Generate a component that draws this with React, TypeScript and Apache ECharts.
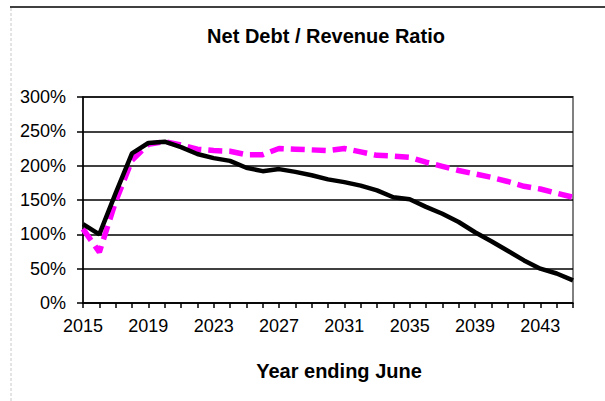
import React, { useEffect, useRef } from "react";
import * as echarts from "echarts";

const years: string[] = [];
for (let y = 2015; y <= 2045; y++) years.push(String(y));

const blackSeries = [
  115, 100, 160, 218, 233, 235, 227, 217, 211, 207,
  197, 192, 195, 191, 186, 180, 176, 171, 164, 154,
  151, 140, 130, 118, 103, 90, 76, 62, 50, 43, 33,
];
const magentaSeries = [
  108, 74, 148, 208, 231, 235, 230, 224, 222, 221,
  216, 216, 225, 224, 223, 222, 225, 220, 215, 214,
  212, 205, 199, 193, 188, 183, 177, 170, 166, 160, 154,
];

const titleText = "Net Debt / Revenue Ratio";
const xAxisName = "Year ending June";

export default function App() {
  const ref = useRef<HTMLDivElement>(null);
  useEffect(() => {
    if (!ref.current) return;
    const chart = echarts.init(ref.current, null, { renderer: "svg" });
    const font = "'Liberation Sans', Arial, sans-serif";
    chart.setOption({
      animation: false,
      backgroundColor: "#ffffff",
      textStyle: { fontFamily: font },
      title: {
        text: titleText,
        left: 321,
        textAlign: "center",
        top: 21,
        textStyle: { fontSize: 20, fontWeight: "bold", color: "#000", fontFamily: font },
      },
      graphic: [
        { type: "line", shape: { x1: 10, y1: 7, x2: 605, y2: 7 }, style: { stroke: "#000", lineWidth: 1.5 } },
        { type: "line", shape: { x1: 11, y1: 8, x2: 11, y2: 401 }, style: { stroke: "#c8c8c8", lineWidth: 1, lineDash: [3, 2] } },
      ],
      grid: {
        left: 83,
        right: 32,
        top: 97,
        bottom: 98,
        show: true,
        borderColor: "#808080",
        borderWidth: 2,
        backgroundColor: "transparent",
      },
      xAxis: {
        type: "category",
        data: years,
        boundaryGap: false,
        name: xAxisName,
        nameLocation: "middle",
        nameGap: 58,
        nameTextStyle: { fontSize: 20, fontWeight: "bold", color: "#000", fontFamily: font, padding: [0, 0, 0, 22] },
        axisLine: { lineStyle: { color: "#000", width: 1.5 } },
        axisTick: { show: true, interval: 0, length: 5, lineStyle: { color: "#000", width: 1.5 } },
        axisLabel: { interval: 3, fontSize: 18, color: "#000", margin: 14, fontFamily: font },
        splitLine: { show: false },
      },
      yAxis: {
        type: "value",
        min: 0,
        max: 300,
        interval: 50,
        axisLine: { show: true, lineStyle: { color: "#000", width: 1.5 } },
        axisTick: { show: true, length: 6, lineStyle: { color: "#000", width: 1.5 } },
        axisLabel: { formatter: "{value}%", fontSize: 18, color: "#000", margin: 17, fontFamily: font },
        splitLine: { show: true, lineStyle: { color: "#000", width: 1.5 } },
      },
      series: [
        {
          type: "line",
          data: magentaSeries,
          symbol: "none",
          lineStyle: { color: "#ff00ff", width: 5.5, type: [14, 7] },
          z: 3,
        },
        {
          type: "line",
          data: blackSeries,
          symbol: "none",
          lineStyle: { color: "#000", width: 4.5 },
          z: 4,
        },
      ],
    });
    return () => chart.dispose();
  }, []);
  return (
    <div
      ref={ref}
      style={{ position: "fixed", left: 0, top: 0, width: 605, height: 401, background: "#fff" }}
    />
  );
}
